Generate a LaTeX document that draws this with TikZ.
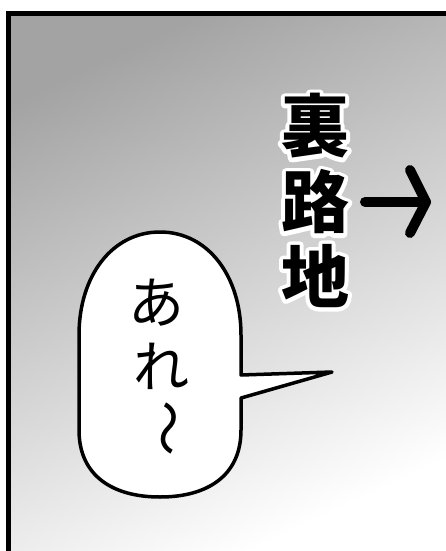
\documentclass[tikz,border=0pt]{standalone}
\usepackage{fontspec}
\newfontfamily\cjk{Noto Sans CJK JP}
\newcommand{\whiteedge}[1]{\special{pdf:literal direct 1 Tr 8 w 1 j 1 1 1 RG}#1\special{pdf:literal direct 0 Tr}}
\usetikzlibrary{positioning, calc}

\begin{document}
\begin{tikzpicture}[x=1pt, y=-1pt,
  sign/.style={font=\cjk\bfseries\fontsize{68}{68}\selectfont, inner sep=0pt},
  talk/.style={font=\cjk\fontsize{56}{56}\selectfont, inner sep=0pt}]
  \useasboundingbox (0,0) rectangle (446,551);
  \fill[white] (0,0) rectangle (446,551);
  \shade[top color=black!36, bottom color=white, shading angle=25] (8.5,13.5) rectangle (446,551);
  \draw[line width=5pt] (8.5,551) -- (8.5,13.5) -- (446,13.5);

  \node[sign] (ura0) at (315,126) {\whiteedge{裏}};
  \node[sign] (ro0) at (315,202) {\whiteedge{路}};
  \node[sign] (chi0) at (315,276) {\whiteedge{地}};
  \node[sign] (ura) at (ura0) {裏};
  \node[sign] (ro) at (ro0) {路};
  \node[sign] (chi) at (chi0) {地};

  \coordinate (tail) at (365,202);
  \coordinate (head) at (426,202);
  \draw[line width=10pt, line cap=round, line join=round] (tail) -- (head);
  \draw[line width=10pt, line cap=round, line join=round] (410,170) -- (head) -- (410,233);

  \draw[line width=3.5pt, fill=white, line join=round]
    (241,375) -- (332,372) -- (241,398) -- (241,430)
    .. controls (241,476) and (207,497) .. (160,497)
    .. controls (113,497) and (79,476) .. (79,430)
    -- (79,335)
    .. controls (79,276) and (112,232) .. (160,232)
    .. controls (208,232) and (241,276) .. (241,335) -- cycle;
  \node[talk] (a) at (156,303) {あ};
  \node[talk] (re) at (161,366) {れ};
  \node[talk, rotate=-90] (nami) at (162,428) {〜};
\end{tikzpicture}
\end{document}
